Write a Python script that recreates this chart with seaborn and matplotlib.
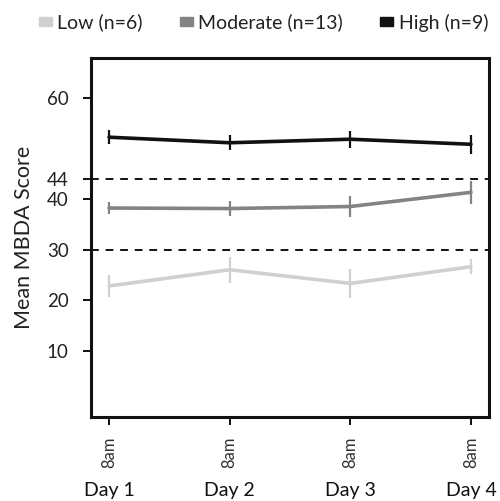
import pandas as pd
import numpy as np
import matplotlib
matplotlib.use('Agg')
import matplotlib.pyplot as plt
from matplotlib.patches import Patch
import seaborn as sns

sns.set_style('white')
plt.rcParams['font.family'] = ['Lato', 'DejaVu Sans']

days = ['Day 1', 'Day 2', 'Day 3', 'Day 4']
times = ['8am', '8am', '8am', '8am']
groups = ['Low (n=6)', 'Moderate (n=13)', 'High (n=9)']
low_mean = [22.8, 26.0, 23.3, 26.6]
low_err = [2.2, 2.6, 2.8, 1.5]
mod_mean = [38.2, 38.1, 38.5, 41.3]
mod_err = [1.1, 1.5, 2.0, 2.3]
high_mean = [52.2, 51.1, 51.8, 50.8]
high_err = [1.4, 1.5, 1.7, 1.9]
thresholds = [30, 44]
yticks = [10, 20, 30, 40, 44, 60]
colors = ['#d0d0d0', '#838383', '#111111']

# long table for seaborn
rows = []
for g, m, e in zip(groups, [low_mean, mod_mean, high_mean], [low_err, mod_err, high_err]):
    for i, (mv, ev) in enumerate(zip(m, e)):
        rows.append({'group': g, 'x': i, 'mean': mv, 'err': ev})
df = pd.DataFrame(rows)

fig = plt.figure(figsize=(5, 5.01), dpi=100)
ax = fig.add_axes([0.182, 0.1677, 0.796, 0.716])

for y in thresholds:
    ax.axhline(y, color='#111111', linestyle=(0, (4, 3.5)), linewidth=1.4, zorder=1)

sns.lineplot(data=df, x='x', y='mean', hue='group', hue_order=groups,
             palette=colors, linewidth=2.6, legend=False, ax=ax, zorder=3)
for g, c in zip(groups, colors):
    d = df[df['group'] == g]
    ax.errorbar(d['x'], d['mean'], yerr=d['err'], fmt='none', ecolor=c,
                elinewidth=1.6, capsize=0, zorder=3)

ax.set_xlim(-0.15, 3.15)
ax.set_ylim(-3.1, 67.8)
ax.set_yticks(yticks)
ax.set_yticklabels([str(t) for t in yticks], fontsize=13.5, color='#222222')
ax.set_xticks(range(len(days)))
ax.set_xticklabels(times, rotation=90, fontsize=12, color='#333333')
ax.tick_params(axis='both', direction='out', length=6, width=1.4, color='#111111',
               left=True, bottom=True)
ax.tick_params(axis='y', pad=10)
ax.tick_params(axis='x', pad=8)
for s in ax.spines.values():
    s.set_linewidth(2.2)
    s.set_color('#111111')
ax.set_xlabel('')
ax.set_ylabel('Mean MBDA Score', fontsize=15.5, labelpad=9, color='#222222')

for i, d in enumerate(days):
    ax.text(i, -0.205, d, transform=ax.get_xaxis_transform(), ha='center',
            va='center', fontsize=14, color='#111111')

handles = [Patch(facecolor=c, edgecolor=c) for c in colors]
fig.legend(handles, groups, loc='center', bbox_to_anchor=(0.527, 0.955), ncol=3,
           frameon=False, fontsize=14, handletextpad=0.3, columnspacing=1.9,
           handlelength=0.65, handleheight=0.35, labelcolor='#222222')

fig.savefig('out.png', dpi=100)
